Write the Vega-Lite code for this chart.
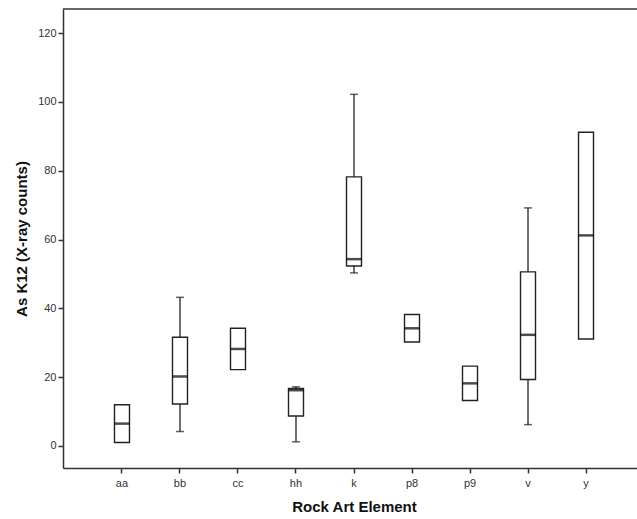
{
  "$schema": "https://vega.github.io/schema/vega-lite/v6.json",
  "width": 574,
  "height": 459,
  "autosize": {"type": "none"},
  "padding": {"left": 63, "top": 9, "right": 0, "bottom": 51},
  "background": "white",
  "config": {
    "view": {"stroke": null},
    "font": "Liberation Sans",
    "axis": {
      "domainColor": "#333333",
      "domainWidth": 1.5,
      "tickColor": "#333333",
      "tickWidth": 1.5,
      "tickSize": 5,
      "labelFont": "Liberation Sans",
      "labelFontSize": 11,
      "labelColor": "#333333",
      "titleFont": "Liberation Sans",
      "titleFontSize": 15,
      "titleFontWeight": "bold",
      "titleColor": "#111111",
      "grid": false
    }
  },
  "layer": [
    {
      "data": {"name": "boxes"},
      "layer": [
        {
          "mark": {"type": "rule", "color": "#222222", "strokeWidth": 1.3},
          "encoding": {
            "y": {
              "field": "lower",
              "type": "quantitative",
              "scale": {"domain": [-6.4, 127], "nice": false, "zero": false},
              "axis": {"title": "As K12 (X-ray counts)", "values": [0, 20, 40, 60, 80, 100, 120], "titlePadding": 8, "labelPadding": 2}
            },
            "y2": {"field": "upper"}
          }
        },
        {
          "transform": [{"filter": "datum.cap"}],
          "mark": {"type": "tick", "color": "#222222", "size": 8, "thickness": 1.5},
          "encoding": {"y": {"field": "upper", "type": "quantitative"}}
        },
        {
          "transform": [{"filter": "datum.cap"}],
          "mark": {"type": "tick", "color": "#222222", "size": 8, "thickness": 1.5},
          "encoding": {"y": {"field": "lower", "type": "quantitative"}}
        },
        {
          "mark": {"type": "bar", "fill": "white", "stroke": "#222222", "strokeWidth": 1.4, "width": 15},
          "encoding": {
            "y": {"field": "q1", "type": "quantitative"},
            "y2": {"field": "q3"}
          }
        },
        {
          "mark": {"type": "tick", "color": "#000000", "size": 15, "thickness": 2.5},
          "encoding": {"y": {"field": "median", "type": "quantitative"}}
        }
      ],
      "encoding": {
        "x": {
          "field": "element",
          "type": "nominal",
          "sort": null,
          "scale": {"range": [0, 582], "paddingInner": 0, "paddingOuter": 0.517},
          "axis": {"title": "Rock Art Element", "labelAngle": 0, "titlePadding": 11, "labelPadding": 4}
        }
      }
    },
    {
      "data": {"values": [{"top": 127}]},
      "mark": {"type": "rule", "color": "#333333", "strokeWidth": 1.5},
      "encoding": {"y": {"field": "top", "type": "quantitative"}}
    }
  ],
  "datasets": {
    "boxes": [
      {"element": "aa", "lower": 1, "q1": 1, "median": 6.5, "q3": 12, "upper": 12, "cap": false},
      {"element": "bb", "lower": 4.2, "q1": 12.2, "median": 20.2, "q3": 31.6, "upper": 43.2, "cap": true},
      {"element": "cc", "lower": 22.2, "q1": 22.2, "median": 28.2, "q3": 34.2, "upper": 34.2, "cap": false},
      {"element": "hh", "lower": 1.2, "q1": 8.7, "median": 16.2, "q3": 16.7, "upper": 17.2, "cap": true},
      {"element": "k", "lower": 50.3, "q1": 52.3, "median": 54.3, "q3": 78.2, "upper": 102.2, "cap": true},
      {"element": "p8", "lower": 30.2, "q1": 30.2, "median": 34.2, "q3": 38.2, "upper": 38.2, "cap": false},
      {"element": "p9", "lower": 13.2, "q1": 13.2, "median": 18.2, "q3": 23.2, "upper": 23.2, "cap": false},
      {"element": "v", "lower": 6.2, "q1": 19.3, "median": 32.3, "q3": 50.6, "upper": 69.2, "cap": true},
      {"element": "y", "lower": 31.1, "q1": 31.1, "median": 61.2, "q3": 91.2, "upper": 91.2, "cap": false}
    ]
  }
}
